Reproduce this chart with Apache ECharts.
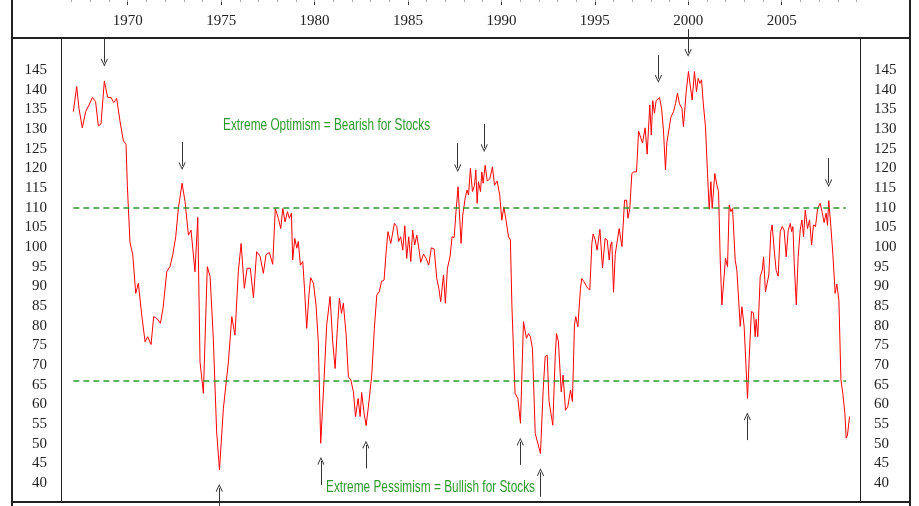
<!DOCTYPE html>
<html>
<head>
<meta charset="utf-8">
<script src="https://cdn.jsdelivr.net/npm/echarts@6/dist/echarts.min.js"></script>
<style>
  html, body { margin: 0; padding: 0; background: #fff; }
  #chart { width: 919px; height: 506px; }
</style>
</head>
<body>
<div id="chart"></div>
<script>
// sentiment index, [year, value]
var s1960s = [
  [1967.09, 134.4], [1967.27, 140.8], [1967.39, 135.3], [1967.57, 130.3], [1967.75, 134.4],
  [1967.93, 136.1], [1968.11, 138.0], [1968.28, 137.0], [1968.43, 130.8], [1968.57, 131.3],
  [1968.75, 142.2], [1968.93, 138.0], [1969.11, 138.0], [1969.25, 136.7], [1969.41, 137.8],
  [1969.59, 131.9], [1969.77, 127.0], [1969.91, 126.1], [1969.98, 115.7]
]
var s1970s = [
  [1970.12, 101.3], [1970.27, 98.0], [1970.43, 88.2], [1970.57, 90.8], [1970.75, 82.7],
  [1970.93, 75.9], [1971.07, 77.2], [1971.25, 75.2], [1971.39, 82.3], [1971.57, 81.8],
  [1971.75, 80.6], [1971.89, 84.4], [1972.09, 93.7], [1972.26, 95.0], [1972.41, 98.0],
  [1972.57, 102.6], [1972.71, 109.8], [1972.91, 116.2], [1973.07, 111.5], [1973.25, 103.0],
  [1973.39, 104.3], [1973.60, 93.7], [1973.75, 107.5], [1973.87, 70.8], [1974.05, 62.8],
  [1974.26, 95.0], [1974.41, 92.5], [1974.58, 76.8], [1974.76, 53.0], [1974.91, 43.3],
  [1975.12, 59.0], [1975.39, 70.8], [1975.57, 82.3], [1975.74, 77.6], [1975.92, 93.7],
  [1976.07, 100.9], [1976.24, 89.5], [1976.39, 94.6], [1976.56, 94.6], [1976.73, 87.1],
  [1976.90, 98.8], [1977.08, 97.7], [1977.26, 93.3], [1977.40, 98.0], [1977.58, 98.6],
  [1977.76, 95.6], [1977.90, 109.8], [1978.06, 107.3], [1978.19, 104.7], [1978.30, 109.8],
  [1978.42, 106.4], [1978.55, 109.0], [1978.65, 107.3], [1978.76, 108.6], [1978.83, 96.7],
  [1978.94, 102.2], [1979.05, 99.7], [1979.13, 101.4], [1979.24, 95.4], [1979.37, 96.3],
  [1979.46, 89.5], [1979.58, 79.3], [1979.70, 87.8], [1979.79, 92.2], [1979.94, 90.8]
]
var s1980s = [
  [1980.08, 85.2], [1980.20, 75.9], [1980.33, 50.1], [1980.51, 66.6], [1980.65, 80.2],
  [1980.83, 87.4], [1980.97, 75.9], [1981.10, 69.1], [1981.22, 79.3], [1981.33, 87.0],
  [1981.44, 83.1], [1981.54, 85.7], [1981.69, 77.6], [1981.81, 67.0], [1981.94, 66.2],
  [1982.08, 63.2], [1982.19, 56.9], [1982.33, 61.5], [1982.44, 56.9], [1982.52, 63.0],
  [1982.65, 57.7], [1982.76, 54.6], [1982.88, 59.4], [1982.97, 59.4], [1983.06, 67.4],
  [1983.20, 79.3], [1983.33, 87.8], [1983.47, 88.7], [1983.58, 91.2], [1983.72, 91.6],
  [1983.83, 98.8], [1983.93, 103.9], [1984.08, 100.9], [1984.17, 100.9], [1984.27, 106.0],
  [1984.40, 105.2], [1984.50, 101.4], [1984.61, 102.6], [1984.72, 99.2], [1984.83, 105.4],
  [1984.93, 97.1], [1985.04, 102.6], [1985.15, 96.3], [1985.25, 104.3], [1985.36, 100.5],
  [1985.47, 103.0], [1985.58, 99.7], [1985.68, 96.1], [1985.83, 98.2], [1985.97, 97.1],
  [1986.11, 95.4], [1986.25, 99.8], [1986.40, 99.5], [1986.54, 92.0], [1986.65, 89.5],
  [1986.75, 86.1], [1986.90, 92.9], [1987.00, 85.7], [1987.11, 94.6], [1987.25, 97.5],
  [1987.36, 102.6], [1987.47, 102.4], [1987.57, 109.0], [1987.68, 115.3], [1987.75, 114.9],
  [1987.84, 100.9], [1987.93, 108.1], [1988.06, 112.4], [1988.16, 114.5], [1988.24, 113.2],
  [1988.34, 120.0], [1988.45, 114.1], [1988.56, 115.7], [1988.63, 119.6], [1988.70, 111.1],
  [1988.77, 116.6], [1988.88, 114.1], [1988.95, 119.1], [1989.02, 116.2], [1989.13, 120.8],
  [1989.24, 116.8], [1989.38, 117.3], [1989.52, 120.4], [1989.63, 115.7], [1989.77, 116.8],
  [1989.91, 113.2]
]
var s1990s = [
  [1990.02, 106.8], [1990.13, 110.2], [1990.23, 107.3], [1990.38, 102.6], [1990.48, 101.8],
  [1990.56, 85.2], [1990.66, 85.7], [1990.73, 62.8], [1990.88, 61.5], [1991.02, 55.2],
  [1991.18, 81.0], [1991.34, 76.8], [1991.45, 78.0], [1991.55, 77.2], [1991.66, 74.2],
  [1991.81, 52.6], [1991.91, 52.2], [1992.09, 47.5], [1992.23, 63.2], [1992.34, 72.1],
  [1992.45, 72.5], [1992.55, 60.7], [1992.75, 54.7], [1992.88, 72.5], [1992.95, 78.0],
  [1993.05, 75.9], [1993.20, 63.2], [1993.30, 67.4], [1993.43, 58.5], [1993.55, 59.4],
  [1993.70, 63.6], [1993.80, 60.7], [1993.91, 80.2], [1993.98, 82.3], [1994.09, 79.7],
  [1994.23, 89.5], [1994.30, 92.0], [1994.41, 91.2], [1994.52, 90.3], [1994.62, 89.5],
  [1994.73, 89.1], [1994.84, 100.9], [1994.91, 103.3], [1995.02, 101.8], [1995.12, 99.2],
  [1995.27, 104.5], [1995.41, 94.7], [1995.55, 102.2], [1995.66, 101.8], [1995.77, 96.7],
  [1995.84, 100.5], [1995.91, 101.3], [1996.00, 88.5], [1996.09, 98.1], [1996.19, 98.4],
  [1996.30, 104.7], [1996.45, 100.1], [1996.59, 111.9], [1996.70, 111.9], [1996.77, 107.3],
  [1996.87, 109.8], [1996.98, 118.7], [1997.09, 119.1], [1997.23, 119.1], [1997.34, 129.5],
  [1997.44, 130.0], [1997.55, 126.4], [1997.69, 130.3], [1997.80, 123.6], [1997.94, 136.1],
  [1998.02, 128.5], [1998.10, 137.2], [1998.19, 134.0], [1998.28, 137.2], [1998.37, 136.9],
  [1998.46, 138.0], [1998.57, 135.3], [1998.67, 129.8], [1998.78, 119.6], [1998.85, 126.4],
  [1998.94, 126.8], [1999.07, 133.0], [1999.21, 134.4], [1999.32, 136.5], [1999.42, 139.1],
  [1999.53, 136.4], [1999.66, 135.3], [1999.74, 130.6], [1999.89, 139.5]
]
var s2000s = [
  [2000.01, 144.6], [2000.10, 141.2], [2000.21, 137.4], [2000.33, 144.6], [2000.44, 139.5],
  [2000.53, 142.9], [2000.62, 141.6], [2000.71, 142.5], [2000.81, 136.1], [2000.92, 130.6],
  [2001.03, 118.7], [2001.12, 109.6], [2001.21, 116.6], [2001.28, 109.8], [2001.42, 118.7],
  [2001.53, 115.8], [2001.62, 114.1], [2001.71, 96.7], [2001.80, 85.3], [2001.89, 84.8],
  [2001.99, 97.1], [2002.10, 95.0], [2002.19, 110.7], [2002.28, 109.0], [2002.37, 109.8],
  [2002.51, 96.7], [2002.60, 94.1], [2002.69, 94.0], [2002.78, 79.8], [2002.87, 84.8],
  [2002.99, 79.8], [2003.17, 61.5], [2003.28, 73.8], [2003.38, 83.6], [2003.49, 83.3],
  [2003.58, 77.2], [2003.63, 81.6], [2003.72, 77.2], [2003.85, 92.5], [2003.96, 94.1],
  [2004.03, 97.5], [2004.13, 88.6], [2004.21, 89.1], [2004.31, 92.9], [2004.42, 103.9],
  [2004.49, 105.6], [2004.60, 99.2], [2004.70, 94.1], [2004.81, 92.6], [2004.92, 103.9],
  [2005.03, 105.2], [2005.13, 104.3], [2005.24, 97.5], [2005.35, 104.3], [2005.46, 106.0],
  [2005.53, 103.9], [2005.60, 105.2], [2005.67, 95.8], [2005.78, 85.3], [2005.88, 97.5],
  [2005.99, 104.3], [2006.08, 106.9], [2006.17, 102.6], [2006.26, 109.4], [2006.38, 104.7],
  [2006.49, 106.9], [2006.60, 100.5], [2006.70, 105.6], [2006.81, 105.2], [2006.92, 109.8],
  [2007.06, 111.1], [2007.17, 108.7], [2007.27, 106.2], [2007.38, 108.6], [2007.45, 105.5],
  [2007.52, 111.8], [2007.63, 105.2], [2007.74, 98.0], [2007.86, 88.2], [2007.95, 90.6],
  [2008.06, 86.5], [2008.17, 66.2], [2008.27, 62.8], [2008.38, 57.7], [2008.45, 51.4],
  [2008.52, 52.2], [2008.63, 56.9]
]

var yearTicks = [1970, 1975, 1980, 1985, 1990, 1995, 2000, 2005]
var yearMinor = []
for (var y = 1967; y <= 2009; y++) yearMinor.push(y)
var valueTicks = [40, 45, 50, 55, 60, 65, 70, 75, 80, 85, 90, 95, 100, 105, 110, 115, 120, 125, 130, 135, 140, 145]

// threshold lines: [value, fromYear, toYear]
var thresholds = [[110, 1967.09, 2008.44], [66, 1967.09, 2008.44]]
// annotation arrows: [year, tail, head]
var arrowsDown = [
  [1968.75, 153.0, 146.9], [1972.91, 126.7, 120.6], [1987.66, 126.4, 120.1],
  [1989.08, 131.3, 125.2], [1998.40, 148.8, 142.8], [1999.99, 155.4, 149.4],
  [2007.51, 122.6, 116.3]
]
var arrowsUp = [
  [1974.90, 34.2, 38.7], [1980.34, 39.5, 45.6], [1982.75, 43.7, 49.7],
  [1991.01, 44.6, 50.5], [1992.09, 36.5, 42.7], [2003.16, 50.9, 56.9]
]
var notes = ['Extreme Optimism = Bearish for Stocks', 'Extreme Pessimism = Bullish for Stocks']

var sentiment = s1960s.concat(s1970s, s1980s, s1990s, s2000s)
var arrowHead = 'path://M0,9 L5,0 L10,9 L9,10 L5,2.4 L1,10 Z'
var serif = "'Liberation Serif', 'Times New Roman', serif"
var sans = "'Liberation Sans', Arial, sans-serif"
var green = '#2e9a2e'
var ink = '#222'

var chart = echarts.init(document.getElementById('chart'))

function yAxisOf (pos) {
  return {
    type: 'value',
    position: pos,
    min: 34.15,
    max: 162.8,
    splitLine: { show: false },
    axisLine: { show: false },
    axisTick: { show: false },
    axisLabel: {
      customValues: valueTicks,
      margin: 14,
      fontFamily: serif,
      fontSize: 15,
      color: ink
    }
  }
}

chart.setOption({
  animation: false,
  grid: { left: 61, right: 59, top: 0, bottom: 0, containLabel: false },
  xAxis: [
    {
      type: 'value',
      position: 'top',
      min: 1966.43,
      max: 2009.19,
      splitLine: { show: false },
      axisLine: { show: false },
      axisTick: { inside: true, length: 5, customValues: yearTicks, lineStyle: { color: '#333' } },
      axisLabel: {
        inside: true,
        margin: 14,
        customValues: yearTicks,
        formatter: function (v) { return String(v) },
        fontFamily: serif,
        fontSize: 15,
        color: ink
      }
    },
    {
      type: 'value',
      position: 'top',
      min: 1966.43,
      max: 2009.19,
      splitLine: { show: false },
      axisLine: { show: false },
      axisTick: { inside: true, length: 2, customValues: yearMinor, lineStyle: { color: '#aaa' } },
      axisLabel: { show: false }
    }
  ],
  yAxis: [yAxisOf('left'), yAxisOf('right')],
  series: [
    {
      type: 'line',
      data: sentiment,
      showSymbol: false,
      lineStyle: { color: '#ff0000', width: 1 },
      markLine: {
        silent: true,
        symbol: 'none',
        label: { show: false },
        lineStyle: { color: green, type: [6, 4], width: 1.5 },
        data: thresholds.map(function (t) {
          return [{ coord: [t[1], t[0]] }, { coord: [t[2], t[0]] }]
        })
      }
    },
    {
      type: 'line',
      data: [],
      markLine: {
        silent: true,
        symbol: ['none', arrowHead],
        symbolSize: 8,
        label: { show: false },
        lineStyle: { color: '#333', type: 'solid', width: 1 },
        data: arrowsDown.concat(arrowsUp).map(function (a) {
          return [
            { coord: [a[0], a[1]], symbol: 'none' },
            { coord: [a[0], a[2]], symbol: arrowHead, symbolSize: [7, 8] }
          ]
        })
      }
    }
  ],
  graphic: [
    { type: 'line', shape: { x1: 12, y1: 0, x2: 12, y2: 506 }, style: { stroke: ink, lineWidth: 2 } },
    { type: 'line', shape: { x1: 910, y1: 0, x2: 910, y2: 506 }, style: { stroke: ink, lineWidth: 2 } },
    { type: 'line', shape: { x1: 12, y1: 38, x2: 910, y2: 38 }, style: { stroke: ink, lineWidth: 2 } },
    { type: 'line', shape: { x1: 12, y1: 502, x2: 910, y2: 502 }, style: { stroke: ink, lineWidth: 2 } },
    { type: 'line', shape: { x1: 61.5, y1: 38, x2: 61.5, y2: 502 }, style: { stroke: ink, lineWidth: 1 } },
    { type: 'line', shape: { x1: 860.5, y1: 38, x2: 860.5, y2: 502 }, style: { stroke: ink, lineWidth: 1 } },
    {
      type: 'text', x: 223, y: 125, scaleX: 0.718,
      style: { text: notes[0], fill: green, fontSize: 16.5, fontFamily: sans, verticalAlign: 'middle' }
    },
    {
      type: 'text', x: 326, y: 487, scaleX: 0.718,
      style: { text: notes[1], fill: green, fontSize: 16.5, fontFamily: sans, verticalAlign: 'middle' }
    }
  ]
})
</script>
</body>
</html>
